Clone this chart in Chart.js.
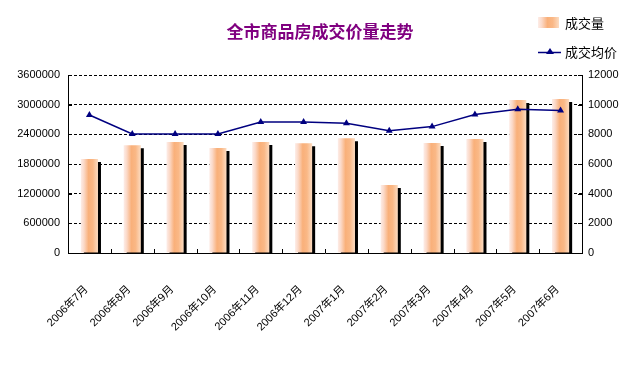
<!DOCTYPE html>
<html>
<head>
<meta charset="utf-8">
<script src="https://cdn.jsdelivr.net/npm/chart.js@4/dist/chart.umd.min.js"></script>
<style>
  html, body { margin: 0; padding: 0; background: #fff; }
  #wrap { width: 636px; height: 368px; }
</style>
</head>
<body>
<div id="wrap"><canvas id="chart" width="636" height="368"></canvas></div>
<script>
const months = ["2006年7月", "2006年8月", "2006年9月", "2006年10月", "2006年11月", "2006年12月",
  "2007年1月", "2007年2月", "2007年3月", "2007年4月", "2007年5月", "2007年6月"];
// 成交量
const volume = [1900000, 2180000, 2245000, 2125000, 2245000, 2220000,
  2320000, 1375000, 2225000, 2305000, 3095000, 3115000];
// 成交均价
const avgPrice = [9300, 8020, 8020, 8020, 8830, 8830, 8740, 8250, 8520, 9330, 9690, 9600];

const titleText = "全市商品房成交价量走势";
const legendNames = ["成交量", "成交均价"];

const FONT = "'Liberation Sans', 'Noto Sans CJK SC', sans-serif";
const CJK = "'Noto Sans CJK SC', sans-serif";

function barGradient(ctx, x0, x1) {
  const g = ctx.createLinearGradient(x0, 0, x1, 0);
  g.addColorStop(0, "#FDEDE8");
  g.addColorStop(0.18, "#FBD9C8");
  g.addColorStop(0.45, "#F9B07A");
  g.addColorStop(0.7, "#FAB886");
  g.addColorStop(1, "#FCDCC2");
  return g;
}

// black drop shadow behind bars
const shadowPlugin = {
  id: "barShadow",
  beforeDatasetDraw(chart, args) {
    if (args.meta.type !== "bar") return;
    const ctx = chart.ctx;
    ctx.save();
    ctx.shadowColor = "#000";
    ctx.shadowBlur = 0;
    ctx.shadowOffsetX = 3;
    ctx.shadowOffsetY = 3;
  },
  afterDatasetDraw(chart, args) {
    if (args.meta.type !== "bar") return;
    chart.ctx.restore();
  }
};

// inward tick marks, title and legend
const decoPlugin = {
  id: "deco",
  afterDraw(chart) {
    const ctx = chart.ctx;
    const area = chart.chartArea;
    const x = chart.scales.x;
    const y = chart.scales.y;
    const y1 = chart.scales.y1;
    ctx.save();
    ctx.strokeStyle = "#000";
    ctx.lineWidth = 1;
    ctx.beginPath();
    const step = x.width / months.length;
    for (let i = 1; i < months.length; i++) {
      const px = Math.round(x.left + i * step) + 0.5;
      ctx.moveTo(px, area.bottom);
      ctx.lineTo(px, area.bottom - 4);
    }
    y.ticks.forEach((t) => {
      const py = Math.round(y.getPixelForValue(t.value)) + 0.5;
      ctx.moveTo(area.left, py);
      ctx.lineTo(area.left + 4, py);
    });
    y1.ticks.forEach((t) => {
      const py = Math.round(y1.getPixelForValue(t.value)) + 0.5;
      ctx.moveTo(area.right, py);
      ctx.lineTo(area.right - 4, py);
    });
    ctx.stroke();

    // title
    ctx.fillStyle = "#800080";
    ctx.font = "bold 17px " + CJK;
    ctx.textAlign = "center";
    ctx.textBaseline = "middle";
    ctx.fillText(titleText, 320, 32);

    // legend
    ctx.fillStyle = barGradient(ctx, 538, 559);
    ctx.fillRect(538, 17, 21, 11);
    ctx.strokeStyle = "#000080";
    ctx.lineWidth = 1.5;
    ctx.beginPath();
    ctx.moveTo(538, 52.5);
    ctx.lineTo(561, 52.5);
    ctx.stroke();
    ctx.fillStyle = "#000080";
    ctx.beginPath();
    ctx.moveTo(550, 48);
    ctx.lineTo(554, 54);
    ctx.lineTo(546, 54);
    ctx.closePath();
    ctx.fill();
    ctx.fillStyle = "#000";
    ctx.font = "13px " + CJK;
    ctx.textAlign = "left";
    ctx.fillText(legendNames[0], 565, 23);
    ctx.fillText(legendNames[1], 565, 52);
    ctx.restore();
  }
};

const ctx = document.getElementById("chart").getContext("2d");
new Chart(ctx, {
  data: {
    labels: months,
    datasets: [
      {
        type: "line",
        label: legendNames[1],
        data: avgPrice,
        yAxisID: "y1",
        borderColor: "#000080",
        borderWidth: 1.5,
        backgroundColor: "#000080",
        pointStyle: "triangle",
        pointRadius: 4,
        pointBorderWidth: 0,
        tension: 0,
        order: 0
      },
      {
        type: "bar",
        label: legendNames[0],
        data: volume,
        yAxisID: "y",
        barPercentage: 0.4,
        categoryPercentage: 1,
        backgroundColor: (c) => {
          const chart = c.chart;
          if (!chart.chartArea || c.dataIndex === undefined) return "#F9B07A";
          const sx = chart.scales.x;
          const cx = sx.getPixelForValue(c.dataIndex);
          const w = sx.width / months.length * 0.4;
          return barGradient(chart.ctx, cx - w / 2, cx + w / 2);
        },
        order: 1
      }
    ]
  },
  options: {
    responsive: false,
    animation: false,
    devicePixelRatio: 1,
    layout: { padding: { top: 75, left: 0, right: 0, bottom: 0 } },
    plugins: {
      legend: { display: false },
      title: { display: false },
      tooltip: { enabled: false }
    },
    scales: {
      x: {
        offset: true,
        grid: { display: false },
        border: { display: true, color: "#000", width: 1 },
        ticks: {
          color: "#000",
          font: { family: FONT, size: 11 },
          minRotation: 45,
          maxRotation: 45,
          autoSkip: false,
          padding: 22,
          labelOffset: -3
        },
        afterFit(scale) { scale.height = 115; }
      },
      y: {
        position: "left",
        min: 0,
        max: 3600000,
        ticks: {
          stepSize: 600000,
          color: "#000",
          font: { family: FONT, size: 11 },
          padding: 8,
          callback: (v) => String(v)
        },
        grid: {
          drawTicks: false,
          color: (c) => (c.tick && c.tick.value === 0 ? "rgba(0,0,0,0)" : "#000"),
          lineWidth: 1
        },
        border: { display: true, color: "#000", width: 1, dash: [3, 2] },
        afterFit(scale) { scale.width = 68; }
      },
      y1: {
        position: "right",
        min: 0,
        max: 12000,
        ticks: {
          stepSize: 2000,
          color: "#000",
          font: { family: FONT, size: 11 },
          padding: 6,
          callback: (v) => String(v)
        },
        grid: { drawOnChartArea: false, drawTicks: false },
        border: { display: true, color: "#000", width: 1 },
        afterFit(scale) { scale.width = 54; }
      }
    }
  },
  plugins: [shadowPlugin, decoPlugin]
});
</script>
</body>
</html>
